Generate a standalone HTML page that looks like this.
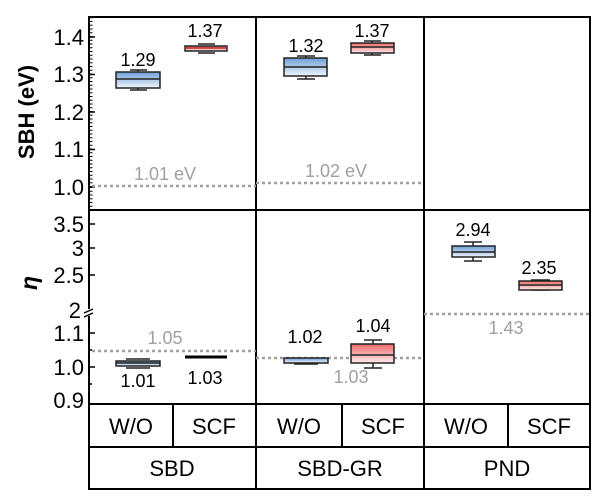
<!DOCTYPE html>
<html><head><meta charset="utf-8"><style>
html,body{margin:0;padding:0;background:#fff;}
svg{display:block;font-family:"Liberation Sans",Arial,sans-serif;}
</style></head><body>
<svg width="612" height="502" viewBox="0 0 612 502" xmlns="http://www.w3.org/2000/svg">
<defs>
<linearGradient id="gb" x1="0" y1="0" x2="0" y2="1"><stop offset="0" stop-color="#6f9fd8"/><stop offset="1" stop-color="#f0f5fc"/></linearGradient>
<linearGradient id="gr" x1="0" y1="0" x2="0" y2="1"><stop offset="0" stop-color="#f06a6a"/><stop offset="1" stop-color="#fdeaea"/></linearGradient>
</defs>
<g stroke="#000" stroke-width="2" fill="none">
<rect x="89" y="17" width="501" height="472"/>
<line x1="89" y1="210" x2="590" y2="210"/>
<line x1="89" y1="404" x2="590" y2="404"/>
<line x1="89" y1="447" x2="590" y2="447"/>
<line x1="256" y1="17" x2="256" y2="489"/>
<line x1="424" y1="17" x2="424" y2="489"/>
<line x1="173" y1="404" x2="173" y2="447"/>
<line x1="342" y1="404" x2="342" y2="447"/>
<line x1="508" y1="404" x2="508" y2="447"/>
</g>
<g stroke="#000">
<line x1="91" y1="187" x2="91" y2="17" stroke-width="3" stroke-dasharray="1 2.75"/>
<line x1="91" y1="187" x2="91" y2="210" stroke-width="3" stroke-dasharray="1 2.75"/>
<g stroke-width="1.5">
<line x1="89" y1="37" x2="95" y2="37"/><line x1="89" y1="74.5" x2="95" y2="74.5"/>
<line x1="89" y1="112" x2="95" y2="112"/><line x1="89" y1="149.5" x2="95" y2="149.5"/>
<line x1="89" y1="187" x2="95" y2="187"/>
<line x1="89" y1="224" x2="95" y2="224"/><line x1="89" y1="248" x2="95" y2="248"/>
<line x1="89" y1="275" x2="95" y2="275"/><line x1="89" y1="333" x2="95" y2="333"/>
<line x1="89" y1="367" x2="95" y2="367"/><line x1="89" y1="350" x2="92" y2="350"/>
<line x1="89" y1="384" x2="92" y2="384"/>
</g>
</g>
<rect x="85" y="309" width="8" height="7" fill="#fff"/>
<path d="M84 313 l9 -4 M84 317 l9 -4" stroke="#000" stroke-width="1.5"/>
<g font-size="22" fill="#000" text-anchor="end">
<text x="84" y="45">1.4</text><text x="84" y="82">1.3</text><text x="84" y="120">1.2</text>
<text x="84" y="157">1.1</text><text x="84" y="195">1.0</text>
<text x="84" y="232">3.5</text><text x="84" y="256">3</text><text x="84" y="283">2.5</text>
<text x="81" y="318">2</text>
<text x="84" y="341">1.1</text><text x="84" y="375">1.0</text><text x="84" y="408">0.9</text>
</g>
<text transform="translate(34,112) rotate(-90)" font-size="22" font-weight="bold" text-anchor="middle">SBH (eV)</text>
<text transform="translate(37,283) rotate(-90)" font-size="23" font-weight="bold" font-style="italic" text-anchor="middle">η</text>
<g stroke="#a0a0a0" stroke-width="2.5" stroke-dasharray="3 3">
<line x1="92" y1="186" x2="256" y2="186"/>
<line x1="256" y1="183" x2="424" y2="183"/>
<line x1="92" y1="351" x2="256" y2="351"/>
<line x1="256" y1="358" x2="424" y2="358"/>
<line x1="424" y1="314" x2="590" y2="314"/>
</g>
<g font-size="18" fill="#a0a0a0" text-anchor="middle">
<text x="165" y="180">1.01 eV</text>
<text x="336" y="177">1.02 eV</text>
<text x="165" y="344">1.05</text>
<text x="351" y="383">1.03</text>
<text x="506" y="334">1.43</text>
</g>
<g stroke="#222" stroke-width="1.5">
<line x1="138" y1="72" x2="138" y2="70"/><line x1="130" y1="70" x2="147" y2="70"/>
<line x1="138" y1="88" x2="138" y2="90"/><line x1="130" y1="90" x2="147" y2="90"/>
<rect x="116" y="72" width="44" height="16" fill="url(#gb)"/><line x1="116" y1="79" x2="160" y2="79"/>
<line x1="198" y1="44" x2="215" y2="44"/><line x1="198" y1="53" x2="215" y2="53"/>
<rect x="185" y="46" width="42" height="5" fill="url(#gr)"/><line x1="185" y1="48" x2="227" y2="48" stroke="#c03030"/>
<line x1="306" y1="58" x2="306" y2="56"/><line x1="297" y1="56" x2="315" y2="56"/>
<line x1="306" y1="76" x2="306" y2="79"/><line x1="297" y1="79" x2="315" y2="79"/>
<rect x="284" y="58" width="43" height="18" fill="url(#gb)"/><line x1="284" y1="67" x2="327" y2="67"/>
<line x1="372" y1="43" x2="372" y2="41"/><line x1="364" y1="41" x2="381" y2="41"/>
<line x1="372" y1="53" x2="372" y2="55"/><line x1="364" y1="55" x2="381" y2="55"/>
<rect x="351" y="43" width="43" height="10" fill="url(#gr)"/><line x1="351" y1="47" x2="394" y2="47"/>
<line x1="126" y1="359" x2="150" y2="359"/><line x1="126" y1="368" x2="150" y2="368"/>
<rect x="116" y="361" width="44" height="5" fill="url(#gb)"/><line x1="116" y1="363" x2="160" y2="363"/>
<line x1="185" y1="357" x2="227" y2="357" stroke="#000" stroke-width="3"/>
<rect x="284" y="358" width="44" height="5" fill="url(#gb)"/><line x1="294" y1="364" x2="318" y2="364"/>
<line x1="373" y1="344" x2="373" y2="340"/><line x1="364" y1="340" x2="382" y2="340"/>
<line x1="373" y1="363" x2="373" y2="368"/><line x1="364" y1="368" x2="382" y2="368"/>
<rect x="351" y="344" width="43" height="19" fill="url(#gr)"/><line x1="351" y1="355" x2="394" y2="355"/>
<line x1="473" y1="246" x2="473" y2="242"/><line x1="464" y1="242" x2="482" y2="242"/>
<line x1="473" y1="257" x2="473" y2="261"/><line x1="464" y1="261" x2="482" y2="261"/>
<rect x="452" y="246" width="43" height="11" fill="url(#gb)"/><line x1="452" y1="252" x2="495" y2="252"/>
<line x1="531" y1="280" x2="550" y2="280"/><line x1="531" y1="290" x2="550" y2="290"/>
<rect x="519" y="281" width="43" height="9" fill="url(#gr)"/><line x1="519" y1="285" x2="562" y2="285"/>
</g>
<g font-size="18" fill="#000" text-anchor="middle">
<text x="138" y="66">1.29</text><text x="205" y="37">1.37</text>
<text x="306" y="52">1.32</text><text x="372" y="37">1.37</text>
<text x="138" y="387">1.01</text><text x="205" y="384">1.03</text>
<text x="305" y="343">1.02</text><text x="373" y="332">1.04</text>
<text x="473" y="236">2.94</text><text x="539" y="274">2.35</text>
</g>
<g font-size="22" fill="#000" text-anchor="middle">
<text x="131" y="434">W/O</text><text x="214" y="434">SCF</text>
<text x="299" y="434">W/O</text><text x="383" y="434">SCF</text>
<text x="466" y="434">W/O</text><text x="549" y="434">SCF</text>
<text x="172" y="476">SBD</text><text x="340" y="476">SBD-GR</text><text x="507" y="476">PND</text>
</g>
</svg>
</body></html>
